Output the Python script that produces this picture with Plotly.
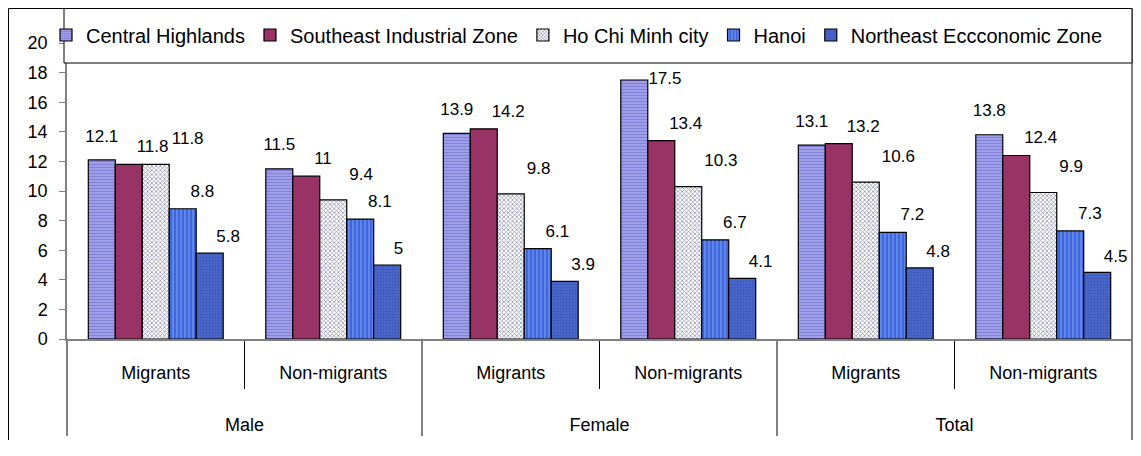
import plotly.graph_objects as go

outer = ["Male", "Male", "Female", "Female", "Total", "Total"]
inner = ["Migrants", "Non-migrants", "Migrants", "Non-migrants", "Migrants", "Non-migrants"]

series_names = ["Central Highlands", "Southeast Industrial Zone", "Ho Chi Minh city",
                "Hanoi", "Northeast Eccconomic Zone"]
central_highlands = [12.1, 11.5, 13.9, 17.5, 13.1, 13.8]
southeast = [11.8, 11, 14.2, 13.4, 13.2, 12.4]
hcmc = [11.8, 9.4, 9.8, 10.3, 10.6, 9.9]
hanoi = [8.8, 8.1, 6.1, 6.7, 7.2, 7.3]
northeast = [5.8, 5, 3.9, 4.1, 4.8, 4.5]
y_ticks = [0, 2, 4, 6, 8, 10, 12, 14, 16, 18, 20]

values = [central_highlands, southeast, hcmc, hanoi, northeast]
patterns = [
    dict(shape="-", bgcolor="#a3a3ee", fgcolor="#5f5fbf", size=3, solidity=0.45),
    dict(shape="", bgcolor="#993366", fgcolor="#993366"),
    dict(shape="x", bgcolor="#ffffff", fgcolor="#2a2a66", size=3, solidity=0.45),
    dict(shape="|", bgcolor="#3f66dd", fgcolor="#9fc0ff", size=4, solidity=0.35),
    dict(shape=".", bgcolor="#4a68cc", fgcolor="#2c46a0", size=3, solidity=0.4),
]
colors = ["#a3a3ee", "#993366", "#ffffff", "#3f66dd", "#4a68cc"]

# value-label placement per series (style only)
label_pos = [
    ["top center", "top center", "top center", "middle right", "top center", "top center"],
    "top right", "top right", "top right", "top right",
]
label_offset = [21, 11, 24, 11, 9]   # invisible marker size -> label offset

FONT = "Liberation Sans, Arial, sans-serif"
FS = 18
LFS = 17

# outer tick labels drawn two lines lower (display only)
outer_disp = ["<br><br>" + s for s in outer]
xcats = [outer_disp, inner]

fig = go.Figure()
for name, vals, pat, col in zip(series_names, values, patterns, colors):
    fig.add_trace(go.Bar(
        name=name, x=xcats, y=vals,
        marker=dict(color=col, pattern=pat, line=dict(color="#000000", width=1.2)),
        hoverinfo="y",
    ))
for name, vals, pos, off in zip(series_names, values, label_pos, label_offset):
    fig.add_trace(go.Scatter(
        name=name, x=xcats, y=vals, mode="markers+text",
        marker=dict(size=off, opacity=0), text=vals, texttemplate="%{y}",
        textposition=pos, textfont=dict(family=FONT, size=LFS, color="#000000"),
        showlegend=False, cliponaxis=False, hoverinfo="skip",
    ))

# page offset (body margin) of the screenshot; visible width ends at 1133
OFF = 8
W, H = 1125, 432
L, R, T, B = 59, 1, 35, 101
pw, ph = W - L - R, H - T - B


def px_x(p):
    return (p - OFF - L) / pw


def px_y(p):
    return (H - B - (p - OFF)) / ph


RIGHT = OFF + W - R  # right edge of plot area on screen

fig.update_layout(
    width=W, height=H,
    margin=dict(l=L, r=R, t=T, b=B),
    paper_bgcolor="#ffffff", plot_bgcolor="#ffffff",
    barmode="group", bargap=0.24, bargroupgap=0,
    scattermode="group", scattergap=0.24,
    font=dict(family=FONT, size=FS, color="#000000"),
    showlegend=True,
    legend=dict(orientation="h", x=px_x(46), y=px_y(35), xanchor="left", yanchor="middle",
                bgcolor="rgba(0,0,0,0)", font=dict(family=FONT, size=20),
                traceorder="normal", itemwidth=30),
    shapes=[
        dict(type="rect", xref="paper", yref="paper", x0=px_x(8.5), x1=px_x(RIGHT),
             y0=px_y(470), y1=px_y(8.5), line=dict(color="#000000", width=1), layer="below"),
        dict(type="rect", xref="paper", yref="paper", x0=px_x(64), x1=px_x(RIGHT),
             y0=px_y(63), y1=px_y(8.5), line=dict(color="#000000", width=1),
             fillcolor="#ffffff", layer="above"),
    ],
)
fig.update_yaxes(range=[0, 20], tickvals=y_ticks, showgrid=False, zeroline=False,
                 showline=True, linecolor="#808080", linewidth=1.5,
                 ticks="outside", ticklen=6, tickcolor="#808080", ticklabelstandoff=8,
                 tickfont=dict(family=FONT, size=FS))
fig.update_xaxes(type="multicategory", showgrid=False, showline=True, linecolor="#808080",
                 linewidth=1.5, ticks="outside", tickson="boundaries", ticklen=48,
                 tickcolor="#000000", showdividers=True, dividercolor="#808080",
                 dividerwidth=1.5, ticklabelstandoff=17, tickfont=dict(family=FONT, size=FS))

fig.write_html("out.html")
